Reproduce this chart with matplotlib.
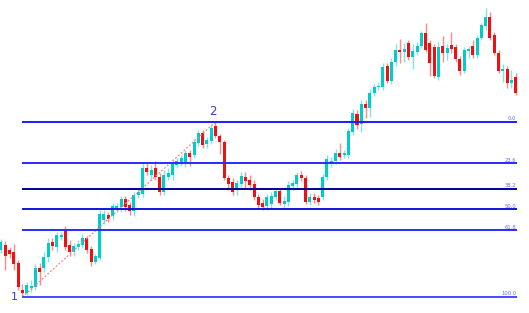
import numpy as np
import matplotlib.pyplot as plt

# OHLC values (one candle per bar)
opens = [1.2847, 1.2852, 1.2847, 1.2845, 1.2834, 1.2807, 1.2804, 1.2809, 1.2810, 1.2829,
         1.2829, 1.2840, 1.2855, 1.2850, 1.2860, 1.2867, 1.2852, 1.2845, 1.2850, 1.2852,
         1.2859, 1.2848, 1.2835, 1.2839, 1.2877, 1.2882, 1.2881, 1.2889, 1.2890, 1.2898,
         1.2892, 1.2886, 1.2902, 1.2903, 1.2929, 1.2922, 1.2929, 1.2920, 1.2905, 1.2920,
         1.2922, 1.2932, 1.2934, 1.2934, 1.2944, 1.2942, 1.2954, 1.2964, 1.2953, 1.2956,
         1.2971, 1.2961, 1.2955, 1.2919, 1.2915, 1.2907, 1.2913, 1.2920, 1.2917, 1.2913,
         1.2900, 1.2894, 1.2891, 1.2893, 1.2900, 1.2906, 1.2893, 1.2895, 1.2911, 1.2913,
         1.2922, 1.2919, 1.2895, 1.2900, 1.2899, 1.2900, 1.2920, 1.2934, 1.2936, 1.2944,
         1.2942, 1.2942, 1.2965, 1.2983, 1.2973, 1.2993, 1.2989, 1.3004, 1.3010, 1.3010,
         1.3031, 1.3016, 1.3035, 1.3047, 1.3045, 1.3054, 1.3040, 1.3045, 1.3051, 1.3064,
         1.3054, 1.3050, 1.3020, 1.3051, 1.3044, 1.3052, 1.3050, 1.3038, 1.3026, 1.3046,
         1.3051, 1.3042, 1.3059, 1.3071, 1.3080, 1.3062, 1.3044, 1.3026, 1.3028, 1.3014,
         1.3020]
highs = [1.2858, 1.2856, 1.2850, 1.2853, 1.2837, 1.2813, 1.2815, 1.2817, 1.2833, 1.2834,
         1.2845, 1.2859, 1.2859, 1.2865, 1.2865, 1.2871, 1.2857, 1.2854, 1.2857, 1.2863,
         1.2861, 1.2851, 1.2843, 1.2887, 1.2887, 1.2885, 1.2894, 1.2894, 1.2901, 1.2901,
         1.2895, 1.2905, 1.2909, 1.2934, 1.2935, 1.2932, 1.2936, 1.2924, 1.2927, 1.2929,
         1.2937, 1.2939, 1.2942, 1.2947, 1.2947, 1.2958, 1.2967, 1.2967, 1.2960, 1.2972,
         1.2975, 1.2963, 1.2957, 1.2922, 1.2919, 1.2917, 1.2925, 1.2925, 1.2922, 1.2917,
         1.2903, 1.2898, 1.2903, 1.2905, 1.2909, 1.2909, 1.2901, 1.2916, 1.2917, 1.2925,
         1.2926, 1.2922, 1.2904, 1.2904, 1.2902, 1.2923, 1.2942, 1.2940, 1.2948, 1.2954,
         1.2947, 1.2969, 1.2988, 1.2987, 1.2997, 1.2997, 1.3008, 1.3013, 1.3015, 1.3034,
         1.3034, 1.3039, 1.3053, 1.3058, 1.3054, 1.3057, 1.3053, 1.3055, 1.3066, 1.3074,
         1.3057, 1.3053, 1.3055, 1.3061, 1.3053, 1.3065, 1.3053, 1.3041, 1.3050, 1.3051,
         1.3057, 1.3062, 1.3074, 1.3089, 1.3085, 1.3065, 1.3047, 1.3033, 1.3031, 1.3027,
         1.3024]
lows = [1.2844, 1.2827, 1.2839, 1.2827, 1.2807, 1.2800, 1.2802, 1.2805, 1.2807, 1.2812,
        1.2825, 1.2835, 1.2847, 1.2845, 1.2857, 1.2847, 1.2841, 1.2841, 1.2847, 1.2849,
        1.2844, 1.2831, 1.2833, 1.2837, 1.2873, 1.2875, 1.2877, 1.2885, 1.2885, 1.2886,
        1.2882, 1.2881, 1.2899, 1.2900, 1.2922, 1.2917, 1.2917, 1.2902, 1.2902, 1.2917,
        1.2917, 1.2929, 1.2931, 1.2930, 1.2931, 1.2939, 1.2951, 1.2949, 1.2949, 1.2953,
        1.2959, 1.2943, 1.2917, 1.2907, 1.2902, 1.2902, 1.2910, 1.2909, 1.2907, 1.2897,
        1.2889, 1.2887, 1.2887, 1.2889, 1.2897, 1.2892, 1.2889, 1.2891, 1.2907, 1.2909,
        1.2916, 1.2893, 1.2892, 1.2894, 1.2892, 1.2897, 1.2917, 1.2930, 1.2933, 1.2937,
        1.2939, 1.2939, 1.2962, 1.2968, 1.2965, 1.2979, 1.2980, 1.3001, 1.3007, 1.3007,
        1.3014, 1.3013, 1.3031, 1.3034, 1.3035, 1.3037, 1.3028, 1.3042, 1.3049, 1.3045,
        1.3021, 1.3019, 1.3017, 1.3035, 1.3037, 1.3044, 1.3035, 1.3022, 1.3024, 1.3039,
        1.3039, 1.3039, 1.3057, 1.3067, 1.3057, 1.3042, 1.3024, 1.3015, 1.3009, 1.3009,
        1.3002]
closes = [1.2855, 1.2841, 1.2843, 1.2833, 1.2810, 1.2804, 1.2812, 1.2811, 1.2829, 1.2825,
          1.2840, 1.2854, 1.2851, 1.2862, 1.2862, 1.2850, 1.2845, 1.2851, 1.2853, 1.2859,
          1.2847, 1.2835, 1.2841, 1.2883, 1.2883, 1.2878, 1.2891, 1.2891, 1.2898, 1.2890,
          1.2886, 1.2902, 1.2905, 1.2929, 1.2925, 1.2927, 1.2920, 1.2905, 1.2922, 1.2924,
          1.2934, 1.2936, 1.2939, 1.2944, 1.2940, 1.2955, 1.2964, 1.2952, 1.2957, 1.2969,
          1.2961, 1.2955, 1.2919, 1.2913, 1.2905, 1.2914, 1.2921, 1.2916, 1.2912, 1.2900,
          1.2892, 1.2890, 1.2900, 1.2901, 1.2906, 1.2894, 1.2896, 1.2912, 1.2914, 1.2922,
          1.2919, 1.2895, 1.2900, 1.2897, 1.2895, 1.2920, 1.2938, 1.2936, 1.2944, 1.2940,
          1.2944, 1.2966, 1.2984, 1.2972, 1.2993, 1.2989, 1.3004, 1.3010, 1.3011, 1.3030,
          1.3016, 1.3035, 1.3047, 1.3045, 1.3048, 1.3040, 1.3046, 1.3051, 1.3064, 1.3047,
          1.3034, 1.3021, 1.3050, 1.3044, 1.3049, 1.3048, 1.3038, 1.3026, 1.3047, 1.3048,
          1.3042, 1.3059, 1.3072, 1.3080, 1.3059, 1.3044, 1.3026, 1.3028, 1.3014, 1.3017,
          1.3004]

fib_levels = [0.0, 23.6, 38.2, 50.0, 61.8, 100.0]
fib_labels = ["0.0", "23.6", "38.2", "50.0", "61.8", "100.0"]
fib_colors = ["#1c1cff", "#2a2aff", "#00009c", "#1414d8", "#2a2aff", "#4a4aff"]

o = np.array(opens)
h = np.array(highs)
l = np.array(lows)
c = np.array(closes)
x = np.arange(len(o))

fig = plt.figure(figsize=(5.29, 3.13), dpi=100)
ax = fig.add_axes([0, 0, 1, 1])

up = c >= o
body_col = np.where(up, "#00cccc", "#ee1111")
wick_col = np.where(up, "#7fe6e6", "#ff8a8a")

ax.vlines(x, l, h, colors=wick_col, linewidth=1.0, zorder=2)
ax.bar(x, np.maximum(np.abs(c - o), 0.00012), bottom=np.minimum(o, c),
       width=0.7, color=body_col, linewidth=0, zorder=3)

# swing points: 1 = lowest low, 2 = the high the retracement is drawn from
i1 = int(np.argmin(l))
i2 = int(np.argmax(h[:60]))
lo, hi = l[i1], h[i2]

# dotted trend line 1 -> 2
ax.plot([i1, i2], [lo, hi], color="#ff7f7f", linestyle=(0, (1.5, 1.5)),
        linewidth=0.9, zorder=4)

x_end = len(o) - 1 + 0.3
for lev, lab, col in zip(fib_levels, fib_labels, fib_colors):
    y = hi - (hi - lo) * lev / 100.0
    ax.hlines(y, i1, x_end, color=col, linewidth=1.4, zorder=5)
    ax.text(x_end - 0.2, y + 0.00006, lab, fontsize=3.8, color="#6a6aff",
            ha="right", va="bottom", zorder=6)

ax.text(i1 - 1.8, lo, "1", fontsize=8, color="#3a3ad0", ha="center",
        va="center")
ax.text(i2 - 0.5, hi + 0.0004, "2", fontsize=8.5, color="#3a3ad0",
        ha="center", va="bottom")

ax.set_xlim(-0.23, 123.1)
ax.set_ylim(1.2784, 1.3097)
ax.axis("off")

fig.savefig("out.png", dpi=100)
